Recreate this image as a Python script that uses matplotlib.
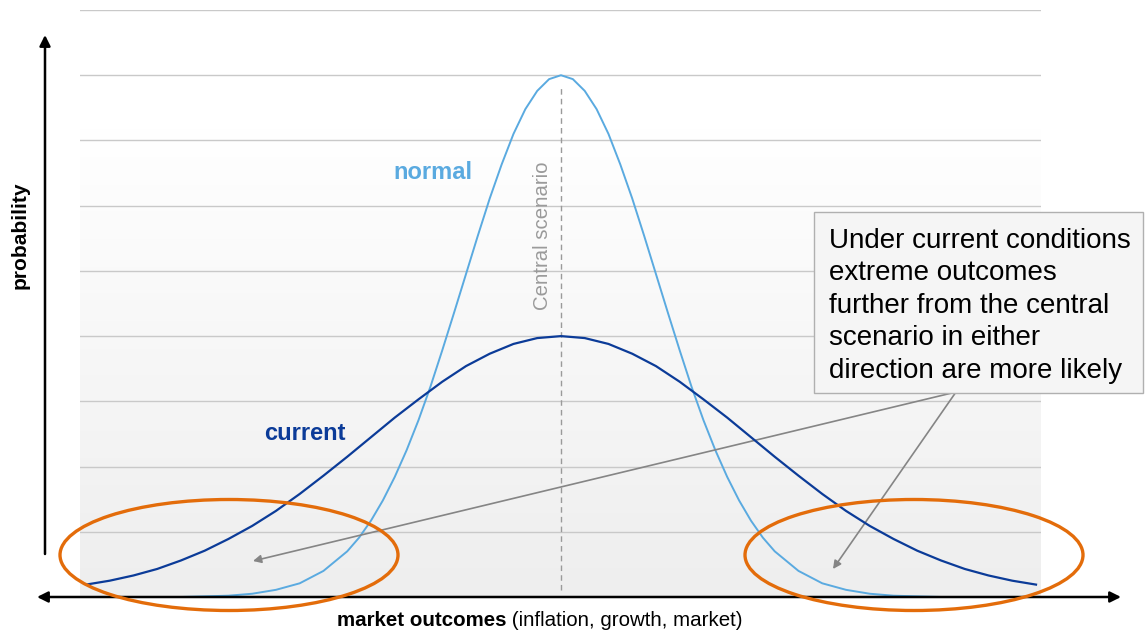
import numpy as np
import matplotlib
matplotlib.use('Agg')
from matplotlib import pyplot as plt
from matplotlib.patches import Ellipse, Rectangle

plt.rcParams['font.family'] = ['Liberation Sans', 'DejaVu Sans']

x_normal = [-20, -18, -16, -15, -14, -13, -12, -11, -10, -9, -8.5, -8, -7.5, -7, -6.5, -6,
            -5.5, -5, -4.5, -4, -3.5, -3, -2.5, -2, -1.5, -1, -0.5, 0, 0.5, 1, 1.5, 2,
            2.5, 3, 3.5, 4, 4.5, 5, 5.5, 6, 6.5, 7, 7.5, 8, 8.5, 9, 10, 11, 12, 13, 14,
            15, 16, 18, 20]
normal = [0.0, 0.0, 0.0, 0.01, 0.02, 0.05, 0.11, 0.21, 0.40, 0.70, 0.91, 1.17, 1.48, 1.84,
          2.25, 2.71, 3.22, 3.78, 4.36, 4.95, 5.54, 6.11, 6.63, 7.10, 7.48, 7.76, 7.94,
          8.00, 7.94, 7.76, 7.48, 7.10, 6.63, 6.11, 5.54, 4.95, 4.36, 3.78, 3.22, 2.71,
          2.25, 1.84, 1.48, 1.17, 0.91, 0.70, 0.40, 0.21, 0.11, 0.05, 0.02, 0.01, 0.0,
          0.0, 0.0]
x_current = list(range(-20, 21))
current = [0.19, 0.25, 0.33, 0.43, 0.56, 0.71, 0.89, 1.09, 1.32, 1.58, 1.86, 2.15, 2.45,
           2.75, 3.03, 3.30, 3.54, 3.73, 3.88, 3.97, 4.00, 3.97, 3.88, 3.73, 3.54, 3.30,
           3.03, 2.75, 2.45, 2.15, 1.86, 1.58, 1.32, 1.09, 0.89, 0.71, 0.56, 0.43, 0.33,
           0.25, 0.19]

note = ('Under current conditions\nextreme outcomes\nfurther from the central\n'
        'scenario in either\ndirection are more likely')

W, H = 1145, 633
def fx(px): return px / W
def fy(py): return 1 - py / H

fig = plt.figure(figsize=(11.45, 6.33), dpi=100)
ax = fig.add_axes([fx(80), fy(597), fx(1041) - fx(80), fy(10) - fy(597)])
ax.set_xlim(-20.25, 20.21)
ax.set_ylim(0, 9)

# grey gradient background, white at the top
grad = np.clip(np.linspace(0, 1, 200) / 0.8, 0, 1)[:, None]
ax.imshow(grad, extent=[-20.25, 20.21, 0, 9], origin='lower', aspect='auto',
          cmap=matplotlib.colors.LinearSegmentedColormap.from_list('bg', ['#eeeeee', '#ffffff']),
          zorder=0)
for g in range(1, 10):
    ax.axhline(g, color='#c9c9c9', lw=1.0, zorder=1)

ax.plot([0, 0], [0.1, 7.85], color='#9a9a9a', lw=1.0, ls=(0, (4, 3)), zorder=2)
ax.plot(x_normal, normal, color='#5aaae0', lw=1.4, zorder=3)
ax.plot(x_current, current, color='#0b3b98', lw=1.6, zorder=4)

for s in ax.spines.values():
    s.set_visible(False)
ax.set_xticks([])
ax.set_yticks([])

# labels on the curves
fig.text(fx(433), fy(172), 'normal', color='#5aaae0', fontsize=17, fontweight='bold',
         ha='center', va='center')
fig.text(fx(305), fy(434), 'current', color='#0b3b98', fontsize=17, fontweight='bold',
         ha='center', va='center')
fig.text(fx(543), fy(236), 'Central scenario', color='#9a9a9a', fontsize=14.7,
         rotation=90, ha='center', va='center')

# axis arrows
ax.annotate('', xy=(fx(45), fy(35)), xytext=(fx(45), fy(554)), xycoords='figure fraction',
            textcoords='figure fraction', annotation_clip=False,
            arrowprops=dict(arrowstyle='-|>', color='black', lw=1.8, mutation_scale=16,
                            shrinkA=0, shrinkB=0))
ax.annotate('', xy=(fx(1121), fy(597)), xytext=(fx(37), fy(597)), xycoords='figure fraction',
            textcoords='figure fraction', annotation_clip=False,
            arrowprops=dict(arrowstyle='<|-|>', color='black', lw=1.8, mutation_scale=16,
                            shrinkA=0, shrinkB=0))

fig.text(fx(20), fy(235), 'probability', fontsize=15, fontweight='bold', rotation=90,
         ha='center', va='center')
t1 = fig.text(fx(337), fy(620), 'market outcomes', fontsize=14.8, fontweight='bold',
              ha='left', va='center')
ax.annotate(' (inflation, growth, market)', xy=(1, 0.5), xycoords=t1, fontsize=14.8,
            ha='left', va='center', annotation_clip=False)

# note box
fig.add_artist(Rectangle((fx(814), fy(393)), fx(1143) - fx(814), fy(212) - fy(393),
                         transform=fig.transFigure, fc='#f5f5f5', ec='#b0b0b0', lw=1.0,
                         zorder=5))
fig.text(fx(829), fy(228), note, fontsize=20, ha='left', va='top', linespacing=1.32,
         zorder=6)

for tip in [(253, 561), (833, 569)]:
    ax.annotate('', xy=(fx(tip[0]), fy(tip[1])), xytext=(fx(956), fy(392)),
                xycoords='figure fraction', textcoords='figure fraction',
                annotation_clip=False,
                arrowprops=dict(arrowstyle='-|>', color='#858585', lw=1.2,
                                mutation_scale=12, shrinkA=0, shrinkB=0))

# ellipses around the tails
for cx in [229, 914]:
    fig.add_artist(Ellipse((fx(cx), fy(555)), 338 / W, 111 / H, transform=fig.transFigure,
                           fill=False, ec='#e36c0a', lw=2.4, zorder=7))

plt.savefig('out.png', dpi=100)
